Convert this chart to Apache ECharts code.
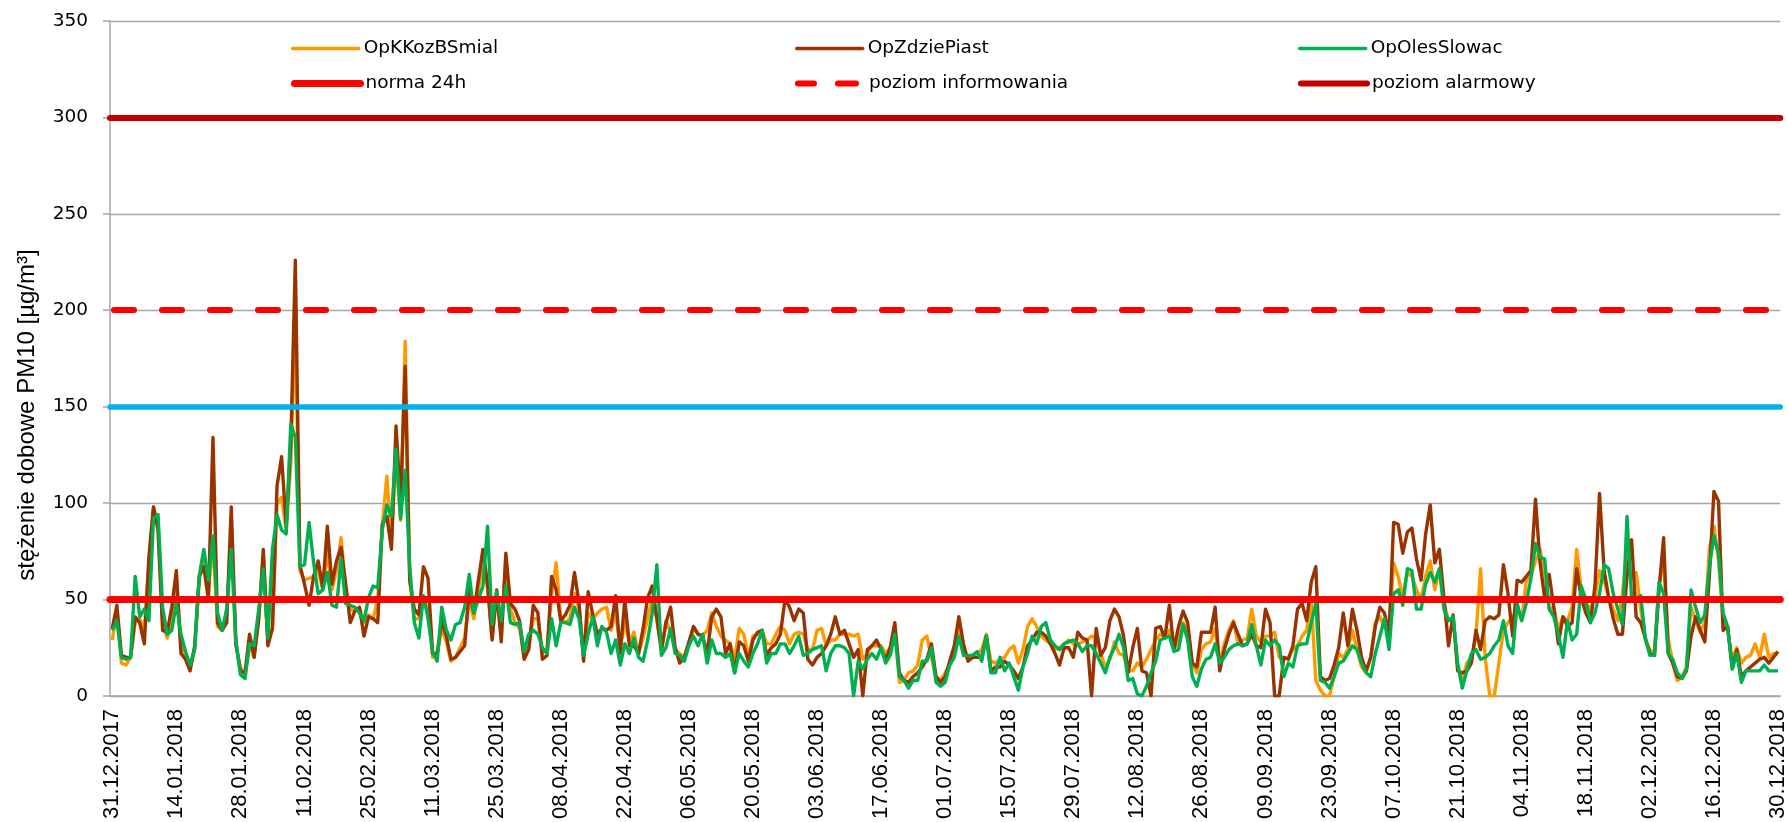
<!DOCTYPE html>
<html><head><meta charset="utf-8">
<script src="https://cdn.jsdelivr.net/npm/echarts@6/dist/echarts.min.js"></script>
<style>html,body{margin:0;padding:0;background:#fff}#c{width:1789px;height:822px}</style>
</head><body><div id="c"></div>
<script>
// ---- data ----
const startDate = [2017, 12, 31];
const dayCount = 365;
const labelStep = 14;
const yMin = 0, yMax = 350, yStep = 50;
const axisTitle = 'stężenie dobowe PM10 [µg/m³]';
const seriesNames = ['OpKKozBSmial', 'OpZdziePiast', 'OpOlesSlowac'];
const thresholdNames = ['norma 24h', 'poziom informowania', 'poziom alarmowy'];
const thresholdValues = [50, 200, 300];
const extraLevel = 150;

const opKKozBSmial = [
29,44,17,16,20,38,40,34,69,98,
88,38,30,38,60,26,20,15,24,60,
74,53,80,36,34,43,90,26,15,10,
27,20,40,72,28,35,100,103,86,120,
195,65,60,61,62,65,55,75,55,65,
82,55,45,44,46,38,42,40,50,88,
114,80,125,91,184,60,40,40,50,45,
20,22,35,28,18,20,25,30,50,40,
55,70,56,30,52,32,70,45,38,35,
20,25,40,40,22,25,52,69,40,38,
40,53,45,20,43,40,43,45,46,34,
43,25,38,28,33,22,30,40,51,40,
22,39,33,24,22,20,27,35,32,31,
34,43,36,31,29,27,19,35,32,20,
31,32,34,27,27,32,36,34,27,32,
33,32,24,24,34,35,26,29,29,32,
32,32,31,32,19,22,26,26,26,22,
25,36,7,8,12,13,16,29,31,20,
10,8,12,16,24,36,22,19,21,22,
24,32,18,17,19,20,24,26,17,24,
36,40,36,31,29,27,24,25,27,29,
27,27,28,29,31,30,22,15,19,28,
22,21,13,13,17,15,19,24,29,32,
30,34,24,29,38,34,17,12,24,27,
28,35,17,27,34,39,27,29,30,45,
31,28,31,31,33,20,19,20,24,26,
31,34,50,8,3,0,0,10,22,20,
24,34,24,15,12,20,38,41,36,31,
69,62,51,64,62,55,50,62,70,55,
65,48,39,41,15,8,17,20,31,66,
20,0,0,17,34,38,41,45,39,60,
62,70,76,64,45,46,34,41,39,46,
76,55,48,45,51,65,60,51,45,39,
53,75,62,64,45,29,24,22,58,70,
30,17,8,10,15,46,39,33,38,76,
88,70,38,34,19,25,17,20,21,27,
20,32,20,22,22
];

const opZdziePiast = [
35,47,21,20,20,41,38,27,72,98,
86,34,33,46,65,22,19,13,26,62,
67,50,134,38,34,38,98,27,13,12,
32,20,40,76,26,35,109,124,88,130,
226,68,58,47,62,70,56,88,58,70,
77,58,38,44,46,31,41,40,38,89,
93,76,140,100,171,60,45,42,67,61,
22,22,39,31,19,20,23,26,55,43,
60,76,58,29,55,28,74,48,45,39,
19,24,47,43,19,21,62,55,39,42,
47,64,48,18,54,42,32,35,34,36,
52,22,50,26,26,22,35,51,57,40,
24,38,46,25,17,20,28,36,32,31,
22,41,45,41,22,27,12,28,26,18,
29,33,34,21,25,27,32,50,46,39,
45,43,19,16,20,22,26,32,41,32,
34,27,20,24,0,24,26,29,24,19,
25,38,12,8,7,10,12,15,19,27,
10,7,10,18,26,41,27,18,20,20,
20,31,13,15,15,18,16,13,9,15,
26,29,33,33,31,27,22,16,25,25,
20,33,30,29,0,35,21,25,39,45,
41,31,12,25,35,13,12,0,35,36,
30,47,24,36,44,38,17,15,33,33,
33,46,13,24,32,38,32,26,27,32,
26,25,45,38,0,0,20,19,26,45,
48,39,59,67,10,8,9,16,25,43,
26,45,34,20,13,20,36,46,43,32,
90,89,74,85,87,71,60,84,99,69,
76,51,26,42,13,12,13,17,34,24,
39,41,40,42,68,53,31,60,59,62,
65,102,69,51,63,46,27,41,36,38,
66,51,43,38,57,105,65,51,40,32,
32,62,81,41,38,30,22,21,55,82,
22,17,10,9,13,31,41,34,28,62,
106,101,34,36,14,24,10,13,15,17,
19,20,17,20,23
];

const opOlesSlowac = [
34,39,20,19,20,62,41,45,39,92,
94,46,32,34,48,32,23,16,24,62,
76,60,83,43,34,45,76,29,11,9,
27,26,45,66,30,76,94,86,84,141,
134,67,68,90,69,53,55,64,47,46,
71,48,47,46,43,39,51,57,56,86,
99,93,128,92,117,67,38,30,52,40,
23,18,46,34,29,37,38,46,63,43,
50,57,88,37,54,39,57,38,37,38,
23,32,34,32,25,22,40,26,38,38,
37,46,40,21,32,41,26,36,33,22,
29,16,27,22,30,20,18,29,43,68,
21,25,35,22,21,18,26,31,26,32,
17,29,22,22,20,22,12,22,18,15,
22,27,34,17,22,22,27,27,22,26,
31,21,22,24,25,26,13,22,26,26,
25,22,0,18,14,19,22,19,25,17,
21,32,10,8,4,8,8,18,18,25,
7,5,7,16,20,31,21,21,21,23,
18,31,12,12,20,13,17,10,3,15,
22,31,27,36,38,29,26,24,27,28,
29,27,23,26,26,22,17,12,20,25,
32,25,8,9,1,0,5,12,18,29,
30,31,23,24,37,29,10,5,14,19,
20,27,17,20,24,26,27,26,27,37,
26,16,29,26,29,26,10,17,15,26,
27,27,38,48,8,7,4,10,17,18,
22,26,24,17,12,10,22,31,40,24,
53,55,47,66,65,45,45,58,64,59,
66,45,39,41,17,4,13,22,24,19,
20,22,26,29,39,26,22,48,39,48,
61,79,72,71,45,41,32,20,39,29,
32,57,50,38,43,53,68,66,53,45,
37,93,51,50,52,30,21,21,59,53,
22,19,12,9,14,55,46,38,42,67,
83,74,43,36,14,22,7,13,13,13,
13,16,13,13,13
];

// ---- categories (dates) ----
const dates = [];
(function () {
  const d0 = new Date(Date.UTC(startDate[0], startDate[1] - 1, startDate[2]));
  for (let i = 0; i < dayCount; i++) {
    const d = new Date(d0.getTime() + i * 86400000);
    const dd = String(d.getUTCDate()).padStart(2, '0');
    const mm = String(d.getUTCMonth() + 1).padStart(2, '0');
    dates.push(dd + '.' + mm + '.' + d.getUTCFullYear());
  }
})();

// ---- styles ----
const gridGray = '#A6A6A6';
const colOrange = '#FF9900', colBrown = '#993300', colGreen = '#00B050';
const colRed = '#FF0000', colDarkRed = '#C00000', colCyan = '#00B0F0';
const hFont = '"DejaVu Sans", Verdana, sans-serif';
const vFont = '"Liberation Sans", Arial, sans-serif';

function dataSeries(name, values, color) {
  return {
    name: name, type: 'line', data: values, symbol: 'none', showSymbol: false,
    itemStyle: { color: color },
    lineStyle: { color: color, width: 3.4, join: 'round' },
    emphasis: { disabled: true }, silent: true
  };
}
function levelSeries(name, value, color, width, type, dashOffset) {
  const ls = { color: color, width: width, type: type, cap: 'round' };
  if (dashOffset !== undefined) ls.dashOffset = dashOffset;
  return {
    name: name, type: 'line', data: [], symbol: 'none', showSymbol: false,
    itemStyle: { color: color }, lineStyle: ls,
    emphasis: { disabled: true }, silent: true,
    markLine: {
      silent: true, symbol: ['none', 'none'], label: { show: false },
      lineStyle: ls, emphasis: { disabled: true },
      data: [{ yAxis: value }]
    }
  };
}
function leg(name, left, top, color, width, type) {
  return {
    data: [name], left: left, top: top, itemWidth: 66, itemHeight: 2,
    selectedMode: false, padding: 0, itemGap: 0,
    itemStyle: { opacity: 0 },
    lineStyle: { color: color, width: width, type: type || 'solid', cap: 'round', opacity: 1 },
    textStyle: { fontFamily: hFont, fontSize: 18.5, color: '#000', padding: [0, 0, 0, 0] }
  };
}

const chart = echarts.init(document.getElementById('c'), null, { renderer: 'canvas' });
chart.setOption({
  animation: false,
  backgroundColor: '#fff',
  grid: { left: 110, right: 5, top: 21, bottom: 126 },
  xAxis: {
    type: 'category', data: dates, boundaryGap: true,
    axisLine: { lineStyle: { color: gridGray, width: 1.5 } },
    axisTick: { interval: labelStep - 1, length: 7, lineStyle: { color: gridGray, width: 1.5 } },
    axisLabel: { interval: labelStep - 1, rotate: 90, margin: 13, fontFamily: vFont, fontSize: 22, color: '#000' },
    splitLine: { show: false }
  },
  yAxis: {
    type: 'value', min: yMin, max: yMax, interval: yStep,
    axisLine: { show: true, lineStyle: { color: gridGray, width: 1.5 } },
    axisTick: { show: true, length: 7, lineStyle: { color: gridGray, width: 1.5 } },
    axisLabel: { margin: 22, fontFamily: hFont, fontSize: 18.5, color: '#000' },
    splitLine: { lineStyle: { color: gridGray, width: 1.3 } }
  },
  legend: [
    leg(seriesNames[0], 291, 39, colOrange, 3.4),
    leg(seriesNames[1], 795, 39, colBrown, 3.4),
    leg(seriesNames[2], 1298, 39, colGreen, 3.4),
    leg(thresholdNames[0], 291, 74, colRed, 7),
    leg(thresholdNames[1], 795, 74, colRed, 6, [18, 24]),
    leg(thresholdNames[2], 1298, 74, colDarkRed, 6)
  ],
  graphic: [{
    type: 'text', x: 27, y: 415, rotation: Math.PI / 2,
    style: { text: axisTitle, font: '24px ' + vFont, fill: '#000', textAlign: 'center', textVerticalAlign: 'middle' }
  }],
  series: [
    dataSeries(seriesNames[0], opKKozBSmial, colOrange),
    dataSeries(seriesNames[1], opZdziePiast, colBrown),
    dataSeries(seriesNames[2], opOlesSlowac, colGreen),
    levelSeries('', extraLevel, colCyan, 5.5, 'solid'),
    levelSeries(thresholdNames[0], thresholdValues[0], colRed, 7, 'solid'),
    levelSeries(thresholdNames[1], thresholdValues[1], colRed, 6, [20, 28], 44),
    levelSeries(thresholdNames[2], thresholdValues[2], colDarkRed, 6, 'solid')
  ]
});
</script>
</body></html>
